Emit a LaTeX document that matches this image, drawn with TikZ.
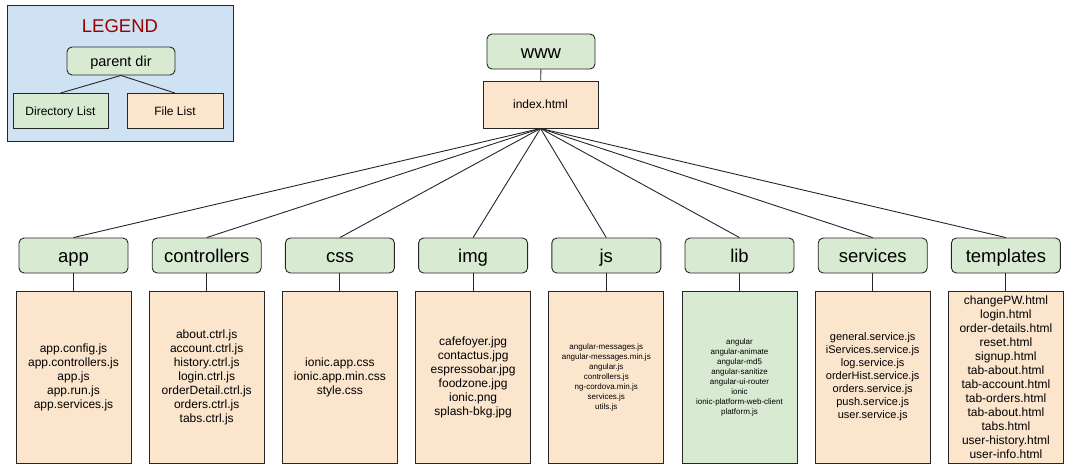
\documentclass[tikz,border=0pt]{standalone}
\usepackage{fontspec}
\setmainfont{Liberation Sans}
\usepackage{tikz}
\definecolor{dirgreen}{HTML}{D9EAD3}
\definecolor{fileorange}{HTML}{FCE5CD}
\definecolor{legendblue}{HTML}{CFE2F3}
\definecolor{legendred}{HTML}{990000}

\begin{document}
\begin{tikzpicture}
    [ x=1pt, y=-1pt, line width=.9pt,
      dir/.style={draw=black!85, fill=dirgreen, rounded corners=5pt,
                  minimum width=109pt, minimum height=35pt, inner sep=0pt,
                  text height=14pt, text depth=0pt,
                  font=\fontsize{18.5}{22}\selectfont},
      filelist/.style={draw=black!85, fill=fileorange, minimum width=115pt,
                  minimum height=172pt, inner sep=0pt, align=center,
                  font=\fontsize{12}{14}\selectfont},
      smalllist/.style={filelist, font=\fontsize{8}{10}\selectfont},
      smalldirs/.style={smalllist, fill=dirgreen},
      midlist/.style={filelist, font=\fontsize{11}{13}\selectfont},
      link/.style={draw=black!85},
    ]
    \useasboundingbox (0,0) rectangle (1075,474);

    % legend
    \draw[draw=black!85, fill=legendblue] (7,5) rectangle (233,141);
    \node[text=legendred, font=\fontsize{18.5}{22}\selectfont] (legend) at (120,26) {LEGEND};
    \node[dir, minimum width=108pt, minimum height=28pt, text height=11pt,
          font=\fontsize{14.5}{17}\selectfont] (parent) at (121,61) {parent dir};
    \node[dir, rounded corners=0pt, minimum width=95pt, minimum height=35pt,
          text height=9pt, font=\fontsize{12}{14}\selectfont] (dirlist) at (60.5,111) {Directory List};
    \node[filelist, minimum width=96pt, minimum height=35pt] (filelist) at (175,111) {File List};
    \draw[link] (parent.south) -- (dirlist.north);
    \draw[link] (parent.south) -- (filelist.north);

    % root
    \node[dir, minimum width=108pt] (www) at (541,51.5) {www};
    \node[filelist, minimum height=47pt] (index) at (540.5,104.5) {index.html};
    \draw[link] (www) -- (index);

    \foreach \i / \dname / \fbox / \files in {
        0/app/filelist/{app.config.js\\app.controllers.js\\app.js\\app.run.js\\app.services.js},
        1/controllers/filelist/{about.ctrl.js\\account.ctrl.js\\history.ctrl.js\\login.ctrl.js\\orderDetail.ctrl.js\\orders.ctrl.js\\tabs.ctrl.js},
        2/css/filelist/{ionic.app.css\\ionic.app.min.css\\style.css},
        3/img/filelist/{cafefoyer.jpg\\contactus.jpg\\espressobar.jpg\\foodzone.jpg\\ionic.png\\splash-bkg.jpg},
        4/js/smalllist/{angular-messages.js\\angular-messages.min.js\\angular.js\\controllers.js\\ng-cordova.min.js\\services.js\\utils.js},
        5/lib/smalldirs/{angular\\angular-animate\\angular-md5\\angular-sanitize\\angular-ui-router\\ionic\\ionic-platform-web-client\\platform.js},
        6/services/midlist/{general.service.js\\iServices.service.js\\log.service.js\\orderHist.service.js\\orders.service.js\\push.service.js\\user.service.js},
        7/templates/filelist/{changePW.html\\login.html\\order-details.html\\reset.html\\signup.html\\tab-about.html\\tab-account.html\\tab-orders.html\\tab-about.html\\tabs.html\\user-history.html\\user-info.html}} {
        \node[dir] (\dname) at ({73.5+133.2*\i}, 255.5) {\dname};
        \node[\fbox] (\dname-files) at ({73.5+133.2*\i}, 377) {\files};
        \draw[link] (index.south) -- (\dname.north);
        \draw[link] (\dname) -- (\dname-files);
    }
\end{tikzpicture}
\end{document}
